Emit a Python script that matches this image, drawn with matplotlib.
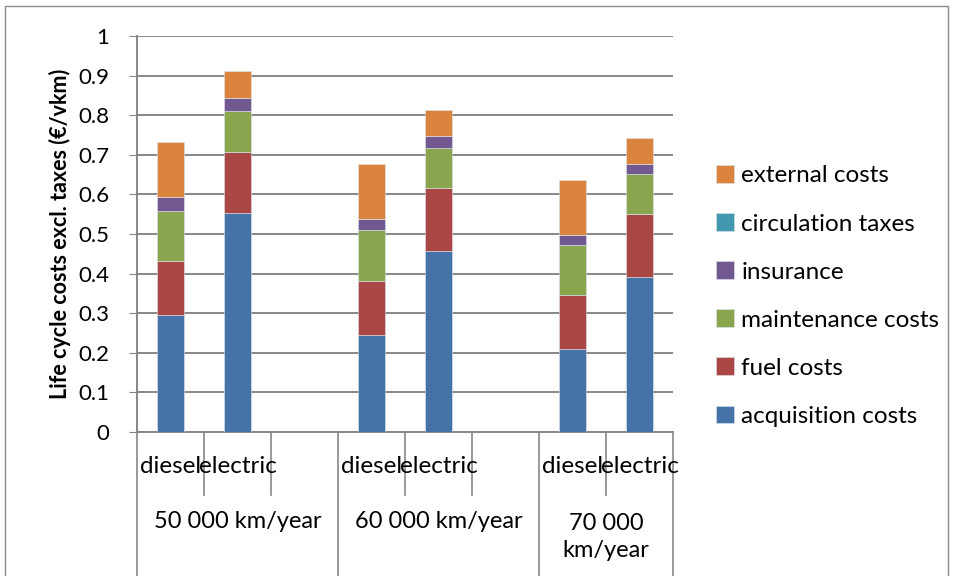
import matplotlib.pyplot as plt
import matplotlib.transforms as mtransforms
from matplotlib.patches import Rectangle
import numpy as np

plt.rcParams['font.family'] = ['Lato', 'DejaVu Sans']

# life cycle cost breakdown per vehicle (EUR/vkm)
groups = ['50 000 km/year', '60 000 km/year', '70 000\nkm/year']
vehicles = ['diesel', 'electric']
components = ['acquisition costs', 'fuel costs', 'maintenance costs',
              'insurance', 'circulation taxes', 'external costs']
colors = ['#4572A7', '#AA4643', '#89A54E', '#71588F', '#4198AF', '#DB843D']

# order: diesel 50k, electric 50k, diesel 60k, electric 60k, diesel 70k, electric 70k
acquisition = [0.296, 0.552, 0.245, 0.458, 0.210, 0.392]
fuel = [0.135, 0.156, 0.136, 0.157, 0.136, 0.158]
maintenance = [0.127, 0.103, 0.128, 0.103, 0.127, 0.102]
insurance = [0.035, 0.033, 0.028, 0.029, 0.024, 0.025]
circulation = [0.0, 0.0, 0.0, 0.0, 0.0, 0.0]
external = [0.140, 0.068, 0.141, 0.067, 0.140, 0.066]
series = [acquisition, fuel, maintenance, insurance, circulation, external]

# slot layout: each group has 3 slots (last one has 2), bars in the first two
slots = [0, 1, 3, 4, 6, 7]
group_edges = [-0.5, 2.5, 5.5, 7.5]

fig = plt.figure(figsize=(9.54, 5.76), dpi=100)
ax = fig.add_axes([137 / 954, 1 - 432 / 576, 536 / 954, 396 / 576])

bottom = np.zeros(len(slots))
for vals, name, c in zip(series, components, colors):
    ax.bar(slots, vals, width=0.41, bottom=bottom, color=c, label=name,
           edgecolor='#dde4ee', linewidth=0.4, zorder=3)
    bottom += np.array(vals)

ax.set_xlim(-0.5, 7.5)
ax.set_ylim(0, 1)
ax.set_yticks(np.arange(0, 1.01, 0.1))
ax.set_yticklabels([f'{v:g}' for v in np.arange(0, 1.01, 0.1).round(1)], fontsize=16)
ax.tick_params(axis='y', length=6, color='#878787', pad=14)
ax.set_xticks([])
ax.yaxis.grid(True, color='#878787', linewidth=1.4, zorder=0)
for s in ['top', 'right']:
    ax.spines[s].set_visible(False)
for s in ['left', 'bottom']:
    ax.spines[s].set_color('#878787')
    ax.spines[s].set_linewidth(1.4)

ax.set_ylabel('Life cycle costs excl. taxes (€/vkm)', fontsize=15.5,
              fontweight='bold')
ax.yaxis.set_label_coords(-0.124, 0.5)

# two-level category axis below the plot
trans = mtransforms.blended_transform_factory(ax.transData, ax.transAxes)
for x in np.arange(0.5, 7, 1):
    if x in group_edges:
        continue
    ax.plot([x, x], [0, -0.16], color='#878787', lw=1.2, transform=trans,
            clip_on=False)
for x in group_edges:
    ax.plot([x, x], [0, -0.4], color='#878787', lw=1.2, transform=trans,
            clip_on=False)
for i, x in enumerate(slots):
    ax.text(x, -0.086, vehicles[i % 2], transform=trans,
            ha='center', va='center', fontsize=17.5)
for g, lo, hi in zip(groups, group_edges[:-1], group_edges[1:]):
    y = -0.225 if '\n' not in g else -0.264
    ax.text((lo + hi) / 2, y, g, transform=trans, ha='center', va='center',
            fontsize=17, linespacing=1.35)

handles, labels = ax.get_legend_handles_labels()
fig.legend(handles[::-1], labels[::-1], loc='center left',
           bbox_to_anchor=(694 / 954, 1 - 296 / 576), frameon=False,
           fontsize=17.5, handlelength=0.75, handleheight=0.75,
           handletextpad=0.3, labelspacing=1.1)

fig.patches.append(Rectangle((5 / 954, -0.1), 943 / 954, 1.1 - 6 / 576,
                             transform=fig.transFigure, fill=False,
                             edgecolor='#8c8c8c', linewidth=1))

fig.savefig('out.png', dpi=100)
